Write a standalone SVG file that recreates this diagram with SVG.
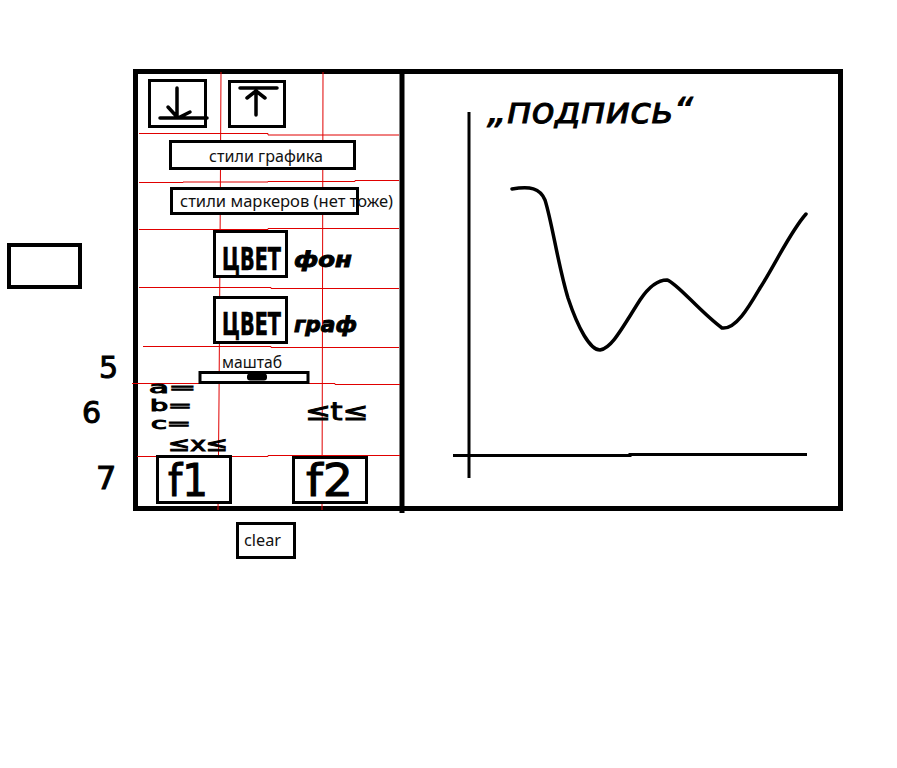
<svg xmlns="http://www.w3.org/2000/svg" width="897" height="768" viewBox="0 0 897 768">
<style>
.frame{fill:none;stroke:#000;stroke-width:5}
.box{fill:#fff;stroke:#000;stroke-width:3}
.ink{fill:none;stroke:#000;stroke-width:3.5;stroke-linecap:round;stroke-linejoin:round}
.red{fill:none;stroke:#e00000;stroke-width:1}
.typed{font-family:"Noto Sans","Liberation Sans",sans-serif;font-size:16px;fill:#111}
.hand{font-family:"DejaVu Sans","Liberation Sans",sans-serif;fill:#000;stroke:#000;stroke-width:1}
.cvet{font-family:"DejaVu Sans Condensed","DejaVu Sans",sans-serif;font-weight:bold;font-size:22px;fill:#000;stroke:#000;stroke-width:0.4}
</style>
<rect width="897" height="768" fill="#fff"/>

<g id="frame">
<rect class="frame" x="135.5" y="71.5" width="705" height="437"/>
<line x1="402" y1="70" x2="402" y2="513" stroke="#000" stroke-width="5"/>
</g>

<g id="guides">
<polyline class="red" points="139,133.5 268,133.5 268,135 399,135"/>
<polyline class="red" points="139,182.5 183,182.5 183,182 268,182 268,181.5 355,181.5 355,180.5 399,180.5"/>
<polyline class="red" points="139,229.5 268,229.5 268,228.5 399,228.5"/>
<polyline class="red" points="139,287.5 271,287.5 271,288.5 399,288.5"/>
<polyline class="red" points="143,346.5 271,346.5 271,347.5 399,347.5"/>
<polyline class="red" points="132,383.5 335,383.5 335,384.5 400,384.5"/>
<polyline class="red" points="137,456.5 268,456.5 268,455.5 400,455.5"/>
<polyline class="red" points="221,72 220,250 219,400 218,510"/>
<polyline class="red" points="323,72 322.5,300 322,510"/>
</g>

<g id="btn-down">
<rect class="box" x="149.5" y="80.5" width="56" height="46"/>
<path class="ink" d="M177,88 V118 M160,118 H207 M168,107 L178,118 L190,112"/>
</g>

<g id="btn-up">
<rect class="box" x="229.5" y="81.5" width="55" height="45"/>
<path class="ink" d="M240,88 H277 M256,92 V115 M247,98 L256,91 L265,98"/>
</g>

<g id="plot-styles">
<rect class="box" x="170.5" y="141.5" width="184" height="27"/>
<text class="typed" x="209" y="162" textLength="114" lengthAdjust="spacingAndGlyphs">стили графика</text>
</g>

<g id="marker-styles">
<rect class="box" x="171.5" y="188.5" width="186" height="25"/>
<text class="typed" x="180" y="207" textLength="213" lengthAdjust="spacingAndGlyphs">стили маркеров (нет тоже)</text>
</g>

<g id="bg-color">
<rect class="box" x="214.5" y="231.5" width="72" height="45"/>
<text class="cvet" transform="translate(222,270) scale(1,1.45)" textLength="59" lengthAdjust="spacingAndGlyphs">ЦВЕТ</text>
<text class="hand" x="294" y="267" font-size="22" font-weight="bold" font-style="italic" stroke-width="0.8" textLength="58" lengthAdjust="spacingAndGlyphs">фон</text>
</g>

<g id="graph-color">
<rect class="box" x="214.5" y="297.5" width="72" height="45"/>
<text class="cvet" transform="translate(222,335) scale(1,1.45)" textLength="59" lengthAdjust="spacingAndGlyphs">ЦВЕТ</text>
<text class="hand" x="294" y="332" font-size="22" font-weight="bold" font-style="italic" stroke-width="0.8" textLength="63" lengthAdjust="spacingAndGlyphs">граф</text>
</g>

<g id="scale">
<text class="typed" x="222" y="368" textLength="60" lengthAdjust="spacingAndGlyphs">маштаб</text>
<rect class="box" x="200" y="372.5" width="108" height="10" stroke-width="2.5"/>
<rect x="247" y="373.5" width="20" height="7" rx="3" fill="#000"/>
</g>

<g id="row-labels">
<text class="hand" x="99" y="378" font-size="30">5</text>
<text class="hand" x="82" y="423" font-size="30">6</text>
<text class="hand" x="96" y="489" font-size="32">7</text>
</g>

<g id="params">
<text class="hand" x="149" y="393" font-size="15" textLength="47" lengthAdjust="spacingAndGlyphs">a=</text>
<text class="hand" x="150" y="411" font-size="15" textLength="42" lengthAdjust="spacingAndGlyphs">b=</text>
<text class="hand" x="151" y="429" font-size="15" textLength="40" lengthAdjust="spacingAndGlyphs">c=</text>
<text class="hand" x="168" y="451" font-size="20" textLength="60" lengthAdjust="spacingAndGlyphs">≤x≤</text>
<text class="hand" x="305" y="420" font-size="24" textLength="63" lengthAdjust="spacingAndGlyphs">≤t≤</text>
</g>

<g id="btn-f1">
<rect class="box" x="157.5" y="456.5" width="73" height="46"/>
<text class="hand" x="168" y="496" font-size="44" stroke-width="0.5" textLength="40" lengthAdjust="spacingAndGlyphs">f1</text>
</g>

<g id="btn-f2">
<rect class="box" x="293.5" y="457.5" width="73" height="45"/>
<text class="hand" x="306" y="496" font-size="44" stroke-width="0.5" textLength="47" lengthAdjust="spacingAndGlyphs">f2</text>
</g>

<g id="side-box">
<rect x="9" y="245" width="71" height="42" fill="#fff" stroke="#000" stroke-width="4"/>
</g>

<g id="btn-clear">
<rect class="box" x="237.5" y="523.5" width="57" height="34"/>
<text class="typed" x="244" y="546" font-size="17" textLength="37" lengthAdjust="spacingAndGlyphs">clear</text>
</g>

<g id="chart">
<text class="hand" x="487" y="123" font-size="36" font-style="italic" stroke-width="1.2" textLength="206" lengthAdjust="spacingAndGlyphs">„подпись“</text>
<line x1="469" y1="112" x2="469" y2="478" stroke="#000" stroke-width="3"/>
<polyline points="453,455.5 630,455.5 630,454.5 807,454.5" fill="none" stroke="#000" stroke-width="3"/>
<path d="M512,189 C530,186 540,188 545,200 C552,222 558,265 568,298 C578,328 590,350 600,350 C612,348 622,328 640,300 C650,285 660,280 667,280 C676,282 700,312 722,328 C736,330 750,305 760,288 C775,265 790,232 806,214" fill="none" stroke="#000" stroke-width="3.5" stroke-linecap="round"/>
</g>
</svg>
